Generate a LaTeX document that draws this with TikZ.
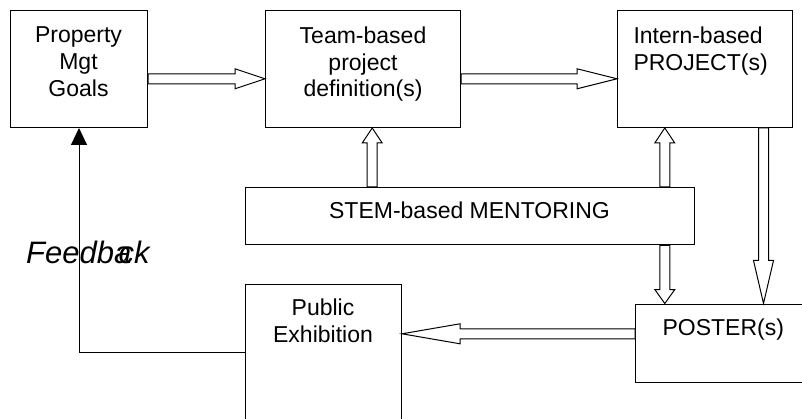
\documentclass[tikz,border=0pt]{standalone}
\usepackage{fontspec}
\setmainfont{Liberation Sans}
\usetikzlibrary{calc,arrows.meta}
\tikzset{
  box/.style={draw=black, line width=1pt, rectangle, inner sep=0pt, anchor=north west},
  lbl/.style={inner sep=0pt, font=\fontsize{23}{26.7}\selectfont},
  blockarr/.style={draw=black, fill=white, line width=1pt, line join=miter},
  fbline/.style={draw=black, line width=1pt, -{Triangle[length=17pt,width=16pt]}}
}
\newcommand{\blockarrow}[3]{%
  \draw[blockarr]
    ($(#1)!5pt!90:(#2)$) --
    ($($(#2)!#3!(#1)$)!5pt!-90:(#1)$) --
    ($($(#2)!#3!(#1)$)!10pt!-90:(#1)$) --
    (#2) --
    ($($(#2)!#3!(#1)$)!10pt!90:(#1)$) --
    ($($(#2)!#3!(#1)$)!5pt!90:(#1)$) --
    ($(#1)!5pt!-90:(#2)$) -- cycle;}
\begin{document}
\begin{tikzpicture}[x=1pt,y=-1pt]
\useasboundingbox (0,0) rectangle (802,419);
% boxes
\node[box, minimum width=137pt, minimum height=117pt] (prop) at (10,10) {};
\node[box, minimum width=195pt, minimum height=117pt] (team) at (265,10) {};
\node[box, minimum width=175pt, minimum height=117pt] (intern) at (617,10) {};
\node[box, minimum width=449pt, minimum height=57.5pt] (stem) at (245,187) {};
\node[box, minimum width=156pt, minimum height=156pt] (public) at (245,284) {};
\node[box, minimum width=177pt, minimum height=78.5pt] (poster) at (635,303.5) {};
% texts
\node[lbl, anchor=north, align=center] (propT) at (78.5,26.6) {Property\\Mgt\\Goals};
\node[lbl, anchor=north, align=center] (teamT) at (363,26.6) {Team-based\\project\\definition(s)};
\node[lbl, anchor=north west, align=left] (internT) at (633.3,26.6) {Intern-based\\PROJECT(s)};
\node[lbl, anchor=base] (stemT) at (469.5,218.3) {STEM-based MENTORING};
\node[lbl, anchor=north, align=center] (publicT) at (323,299) {Public\\Exhibition};
\node[lbl, anchor=base] (posterT) at (723.3,335) {POSTER(s)};
\node[inner sep=0pt, anchor=base west, font=\fontsize{31}{36}\selectfont\itshape] (fbT) at (26,263.3) {Feedb\rlap{a}\kern0.15em ck};
% connector end points
\coordinate (a1s) at ($(prop.east)+(0,9.8)$);
\coordinate (a1e) at (team.west |- a1s);
\coordinate (a2s) at (team.east |- a1s);
\coordinate (a2e) at (intern.west |- a1s);
\coordinate (a3e) at ($(team.south)+(9.2,0)$);
\coordinate (a3s) at (stem.north -| a3e);
\coordinate (a4e) at ($(intern.south)+(-40.2,0)$);
\coordinate (a4s) at (stem.north -| a4e);
\coordinate (a5s) at (stem.south -| a4e);
\coordinate (a5e) at (poster.north -| a4e);
\coordinate (a6s) at ($(intern.south)+(58.5,0)$);
\coordinate (a6e) at (poster.north -| a6s);
\coordinate (a7s) at ($(poster.west)+(0,-9.45)$);
\coordinate (a7e) at (public.east |- a7s);
\coordinate (fbs) at ($(public.north west)+(0,68.3)$);
% block arrows
\blockarrow{a1s}{a1e}{30pt}
\blockarrow{a2s}{a2e}{40pt}
\blockarrow{a3s}{a3e}{15pt}
\blockarrow{a4s}{a4e}{15pt}
\blockarrow{a5s}{a5e}{14pt}
\blockarrow{a6s}{a6e}{43pt}
\blockarrow{a7s}{a7e}{58pt}
% feedback
\draw[fbline] (fbs) -| (prop.south);
\end{tikzpicture}
\end{document}
